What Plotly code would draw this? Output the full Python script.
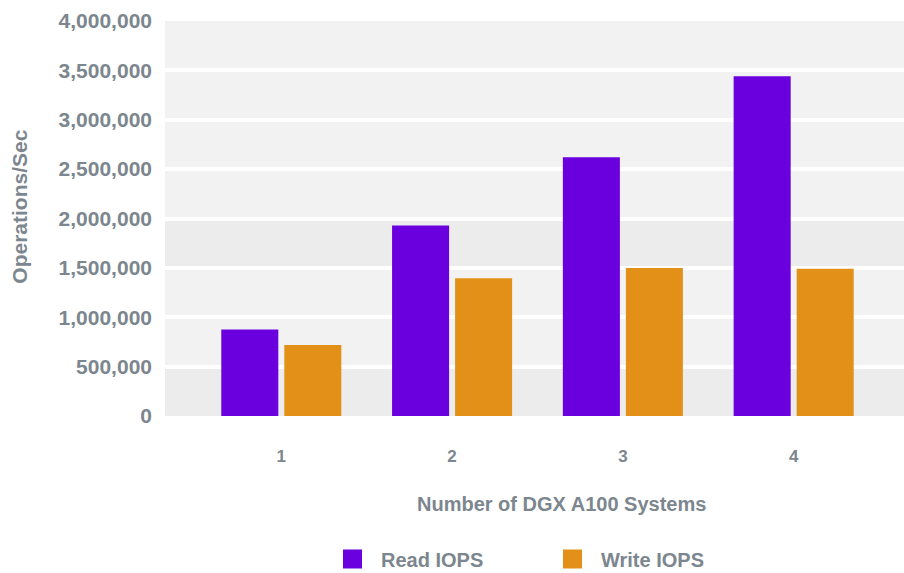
import plotly.graph_objects as go

# IOPS measured for each DGX A100 system count
systems = ["1", "2", "3", "4"]
read_iops = [875000, 1930000, 2620000, 3440000]
write_iops = [720000, 1395000, 1500000, 1490000]

y_ticks = [0, 500000, 1000000, 1500000, 2000000, 2500000, 3000000, 3500000, 4000000]

READ_COLOR = "#6a00dd"
WRITE_COLOR = "#e29017"
TEXT_COLOR = "#7c868e"
FONT = "Liberation Sans, Arial, sans-serif"

fig = go.Figure()

fig.add_trace(go.Bar(x=systems, y=read_iops, name="Read IOPS",
                     marker=dict(color=READ_COLOR, line=dict(width=0)),
                     showlegend=False))
fig.add_trace(go.Bar(x=systems, y=write_iops, name="Write IOPS",
                     marker=dict(color=WRITE_COLOR, line=dict(width=0)),
                     showlegend=False))

# legend entries with larger square swatches
for name, color in [("Read IOPS", READ_COLOR), ("Write IOPS", WRITE_COLOR)]:
    fig.add_trace(go.Scatter(x=[None], y=[None], mode="markers", name=name,
                             marker=dict(symbol="square", size=16, color=color,
                                         line=dict(width=3, color=color))))

# darker background bands behind the grid
for y0, y1 in [(0, 500000), (1500000, 2000000)]:
    fig.add_shape(type="rect", xref="paper", yref="y", x0=0, x1=1, y0=y0, y1=y1,
                  fillcolor="#ececec", line=dict(width=0), layer="below")

fig.update_layout(
    width=904, height=573,
    margin=dict(l=165, r=0, t=21, b=157, autoexpand=False),
    paper_bgcolor="white",
    plot_bgcolor="#f2f2f2",
    barmode="group",
    bargap=0.262,
    bargroupgap=0.095,
    font=dict(family=FONT, color=TEXT_COLOR, size=20, weight="bold"),
    showlegend=True,
    legend=dict(orientation="h", xref="container", yref="container",
                x=0.3584, xanchor="left", y=0.0244, yanchor="middle",
                itemwidth=47, entrywidth=158, entrywidthmode="pixels",
                font=dict(size=20, color=TEXT_COLOR, family=FONT, weight="bold"),
                bgcolor="rgba(0,0,0,0)"),
    annotations=[
        dict(text="Number of DGX A100 Systems", xref="paper", yref="paper",
             x=0.536, y=-0.2228, xanchor="center", yanchor="middle", showarrow=False,
             font=dict(size=20, color=TEXT_COLOR, family=FONT, weight="bold")),
        dict(text="Operations/Sec", xref="paper", yref="paper", textangle=-90,
             x=0, xshift=-145, y=0.530, xanchor="center", yanchor="middle",
             showarrow=False,
             font=dict(size=21, color=TEXT_COLOR, family=FONT, weight="bold")),
    ],
)

fig.update_xaxes(
    type="category",
    range=[-0.681, 3.646],
    showgrid=False, zeroline=False, showline=False,
    ticks="", ticklabelstandoff=28,
    tickfont=dict(size=17, color=TEXT_COLOR, family=FONT, weight="bold"),
)

fig.update_yaxes(
    range=[0, 4000000],
    tickvals=y_ticks,
    tickformat=",",
    showgrid=True, gridcolor="white", gridwidth=4,
    zeroline=False, showline=False,
    ticks="", ticklabelstandoff=12,
    tickfont=dict(size=21, color=TEXT_COLOR, family=FONT, weight="bold"),
)

# the figure fills the page exactly, so keep the page from scrolling
fig.write_html(
    "out.html",
    post_script=("document.documentElement.style.overflow='hidden';"
                 "document.body.style.margin='0';document.body.style.overflow='hidden';"),
)
